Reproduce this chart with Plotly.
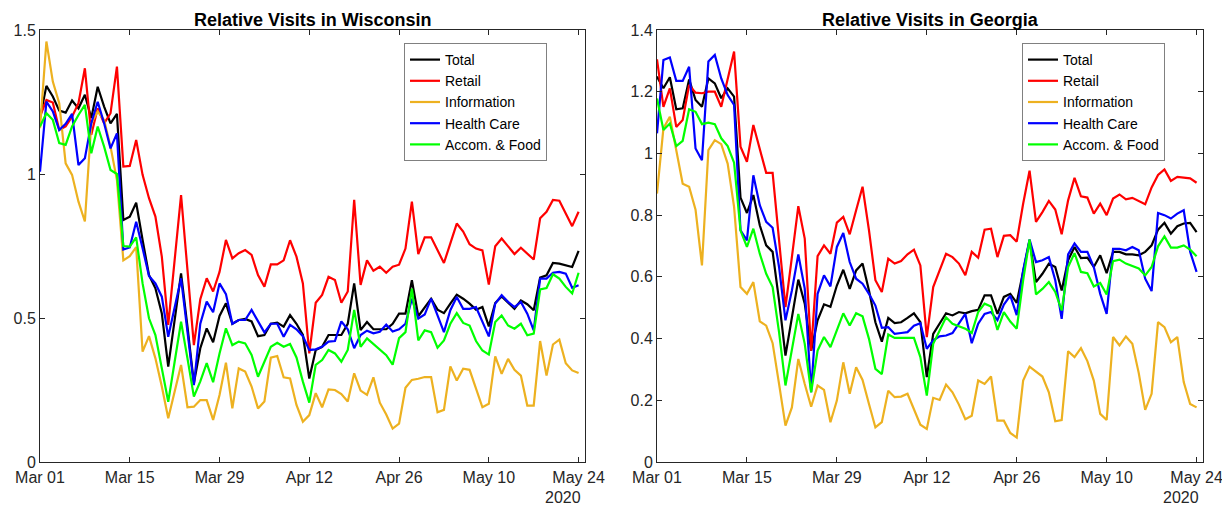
import pandas as pd
import plotly.graph_objects as go

dates = pd.date_range("2020-03-01", "2020-05-24", freq="D")

series_names = ["Total", "Retail", "Information", "Health Care", "Accom. & Food"]
series_colors = ["#000000", "#FF0000", "#EDB120", "#0000FF", "#00FF00"]

wi_total = [1.194, 1.306, 1.269, 1.22, 1.213, 1.255, 1.228, 1.275, 1.194, 1.303, 1.234, 1.176, 1.209, 0.84, 0.852, 0.90, 0.771, 0.649, 0.603, 0.516, 0.331, 0.487, 0.655, 0.47, 0.273, 0.395, 0.464, 0.416, 0.507, 0.551, 0.48, 0.493, 0.497, 0.488, 0.437, 0.441, 0.48, 0.484, 0.47, 0.51, 0.48, 0.441, 0.29, 0.389, 0.40, 0.441, 0.441, 0.441, 0.48, 0.62, 0.458, 0.486, 0.461, 0.461, 0.461, 0.48, 0.515, 0.515, 0.631, 0.506, 0.538, 0.567, 0.529, 0.517, 0.55, 0.581, 0.567, 0.55, 0.529, 0.538, 0.471, 0.552, 0.575, 0.552, 0.532, 0.561, 0.548, 0.527, 0.64, 0.648, 0.691, 0.689, 0.683, 0.677, 0.733]
wi_retail = [1.199, 1.257, 1.248, 1.153, 1.165, 1.199, 1.246, 1.367, 1.136, 1.228, 1.176, 1.211, 1.373, 1.026, 1.028, 1.118, 0.997, 0.916, 0.852, 0.713, 0.476, 0.70, 0.927, 0.667, 0.406, 0.565, 0.638, 0.592, 0.66, 0.771, 0.707, 0.725, 0.736, 0.719, 0.649, 0.609, 0.686, 0.686, 0.70, 0.77, 0.713, 0.62, 0.377, 0.553, 0.58, 0.643, 0.632, 0.553, 0.592, 0.91, 0.615, 0.70, 0.664, 0.678, 0.657, 0.678, 0.685, 0.741, 0.904, 0.722, 0.78, 0.78, 0.735, 0.691, 0.759, 0.828, 0.80, 0.756, 0.741, 0.735, 0.616, 0.749, 0.776, 0.749, 0.722, 0.744, 0.724, 0.703, 0.846, 0.869, 0.91, 0.907, 0.863, 0.819, 0.869]
wi_info = [1.159, 1.46, 1.321, 1.246, 1.037, 0.997, 0.904, 0.835, 1.176, 1.217, 1.188, 1.095, 0.979, 0.70, 0.715, 0.746, 0.383, 0.437, 0.36, 0.262, 0.152, 0.244, 0.337, 0.19, 0.192, 0.215, 0.215, 0.146, 0.233, 0.345, 0.186, 0.325, 0.314, 0.262, 0.186, 0.21, 0.362, 0.368, 0.294, 0.29, 0.198, 0.14, 0.163, 0.239, 0.19, 0.252, 0.25, 0.236, 0.21, 0.308, 0.248, 0.233, 0.294, 0.206, 0.165, 0.116, 0.133, 0.258, 0.285, 0.289, 0.295, 0.295, 0.173, 0.181, 0.332, 0.283, 0.324, 0.32, 0.258, 0.19, 0.202, 0.367, 0.306, 0.358, 0.32, 0.30, 0.196, 0.196, 0.42, 0.30, 0.408, 0.425, 0.343, 0.318, 0.309]
wi_health = [1.008, 1.251, 1.217, 1.153, 1.174, 1.209, 1.031, 1.055, 1.176, 1.251, 1.176, 1.089, 1.141, 0.738, 0.745, 0.834, 0.742, 0.646, 0.62, 0.574, 0.435, 0.54, 0.638, 0.453, 0.267, 0.48, 0.557, 0.52, 0.62, 0.583, 0.48, 0.493, 0.493, 0.528, 0.488, 0.45, 0.48, 0.48, 0.435, 0.476, 0.461, 0.437, 0.389, 0.391, 0.40, 0.418, 0.42, 0.488, 0.461, 0.395, 0.441, 0.456, 0.447, 0.452, 0.477, 0.453, 0.461, 0.48, 0.567, 0.498, 0.512, 0.567, 0.509, 0.451, 0.527, 0.573, 0.532, 0.532, 0.538, 0.486, 0.436, 0.55, 0.579, 0.556, 0.538, 0.556, 0.515, 0.457, 0.637, 0.637, 0.657, 0.66, 0.654, 0.605, 0.614]
wi_accom = [1.165, 1.211, 1.188, 1.107, 1.101, 1.165, 1.205, 1.24, 1.072, 1.165, 1.095, 1.014, 1.0, 0.75, 0.748, 0.78, 0.62, 0.499, 0.441, 0.325, 0.209, 0.348, 0.487, 0.36, 0.227, 0.28, 0.343, 0.277, 0.377, 0.464, 0.406, 0.418, 0.412, 0.372, 0.296, 0.348, 0.40, 0.414, 0.40, 0.41, 0.363, 0.279, 0.206, 0.337, 0.354, 0.389, 0.377, 0.348, 0.389, 0.528, 0.40, 0.429, 0.41, 0.388, 0.371, 0.338, 0.43, 0.451, 0.602, 0.422, 0.457, 0.451, 0.397, 0.422, 0.48, 0.517, 0.483, 0.474, 0.42, 0.387, 0.373, 0.486, 0.509, 0.474, 0.463, 0.48, 0.44, 0.446, 0.599, 0.604, 0.652, 0.637, 0.608, 0.585, 0.657]

ga_total = [1.249, 1.211, 1.247, 1.143, 1.146, 1.24, 1.173, 1.151, 1.243, 1.227, 1.179, 1.211, 1.184, 0.857, 0.807, 0.865, 0.767, 0.702, 0.681, 0.524, 0.345, 0.47, 0.591, 0.513, 0.361, 0.459, 0.511, 0.503, 0.572, 0.623, 0.561, 0.621, 0.643, 0.556, 0.453, 0.39, 0.467, 0.45, 0.453, 0.467, 0.482, 0.453, 0.275, 0.415, 0.448, 0.482, 0.475, 0.486, 0.482, 0.489, 0.493, 0.54, 0.54, 0.48, 0.535, 0.545, 0.516, 0.621, 0.718, 0.583, 0.61, 0.643, 0.632, 0.556, 0.654, 0.697, 0.661, 0.662, 0.632, 0.67, 0.612, 0.681, 0.681, 0.673, 0.673, 0.67, 0.681, 0.702, 0.753, 0.775, 0.74, 0.764, 0.773, 0.775, 0.745]
ga_retail = [1.305, 1.151, 1.211, 1.086, 1.108, 1.222, 1.197, 1.195, 1.2, 1.2, 1.151, 1.243, 1.33, 1.022, 0.973, 1.092, 1.016, 0.937, 0.937, 0.718, 0.502, 0.664, 0.829, 0.724, 0.361, 0.667, 0.702, 0.675, 0.776, 0.794, 0.738, 0.816, 0.892, 0.751, 0.589, 0.551, 0.659, 0.643, 0.651, 0.673, 0.688, 0.637, 0.405, 0.567, 0.621, 0.675, 0.664, 0.643, 0.605, 0.681, 0.662, 0.753, 0.756, 0.664, 0.733, 0.735, 0.714, 0.837, 0.944, 0.778, 0.81, 0.846, 0.818, 0.738, 0.848, 0.921, 0.861, 0.857, 0.805, 0.837, 0.80, 0.854, 0.867, 0.851, 0.856, 0.846, 0.835, 0.89, 0.93, 0.948, 0.911, 0.924, 0.922, 0.919, 0.905]
ga_info = [0.87, 1.081, 1.119, 1.005, 0.902, 0.892, 0.818, 0.637, 1.011, 1.043, 1.03, 0.967, 0.827, 0.567, 0.545, 0.583, 0.456, 0.442, 0.385, 0.253, 0.118, 0.177, 0.334, 0.253, 0.179, 0.248, 0.234, 0.129, 0.199, 0.323, 0.221, 0.307, 0.266, 0.188, 0.112, 0.129, 0.231, 0.21, 0.212, 0.221, 0.172, 0.121, 0.107, 0.208, 0.201, 0.251, 0.226, 0.186, 0.139, 0.15, 0.264, 0.253, 0.277, 0.134, 0.134, 0.094, 0.079, 0.264, 0.309, 0.294, 0.277, 0.226, 0.132, 0.136, 0.359, 0.34, 0.369, 0.327, 0.264, 0.156, 0.136, 0.405, 0.378, 0.407, 0.383, 0.288, 0.169, 0.221, 0.453, 0.437, 0.388, 0.405, 0.259, 0.188, 0.177]
ga_health = [1.065, 1.303, 1.311, 1.235, 1.235, 1.281, 1.016, 0.978, 1.298, 1.319, 1.243, 1.189, 1.157, 0.751, 0.718, 0.929, 0.832, 0.778, 0.759, 0.632, 0.459, 0.556, 0.673, 0.562, 0.226, 0.545, 0.605, 0.569, 0.697, 0.742, 0.648, 0.594, 0.578, 0.545, 0.507, 0.435, 0.437, 0.415, 0.418, 0.421, 0.442, 0.45, 0.367, 0.394, 0.407, 0.41, 0.418, 0.448, 0.48, 0.385, 0.448, 0.48, 0.486, 0.46, 0.51, 0.539, 0.476, 0.621, 0.721, 0.648, 0.654, 0.664, 0.589, 0.464, 0.673, 0.708, 0.681, 0.681, 0.632, 0.545, 0.48, 0.691, 0.691, 0.686, 0.697, 0.686, 0.594, 0.554, 0.807, 0.80, 0.789, 0.805, 0.816, 0.681, 0.616]
ga_accom = [1.178, 1.076, 1.097, 1.024, 1.041, 1.143, 1.135, 1.095, 1.1, 1.095, 1.049, 1.024, 0.97, 0.75, 0.697, 0.756, 0.675, 0.61, 0.567, 0.421, 0.248, 0.361, 0.48, 0.383, 0.226, 0.361, 0.405, 0.372, 0.426, 0.482, 0.442, 0.482, 0.472, 0.399, 0.302, 0.285, 0.413, 0.402, 0.402, 0.402, 0.402, 0.34, 0.215, 0.383, 0.426, 0.469, 0.448, 0.439, 0.432, 0.418, 0.486, 0.513, 0.504, 0.428, 0.486, 0.455, 0.432, 0.589, 0.721, 0.543, 0.561, 0.583, 0.551, 0.491, 0.632, 0.677, 0.616, 0.612, 0.569, 0.58, 0.543, 0.651, 0.656, 0.643, 0.634, 0.627, 0.605, 0.632, 0.699, 0.731, 0.695, 0.695, 0.702, 0.688, 0.667]

x_tick_vals = ["2020-03-01", "2020-03-15", "2020-03-29", "2020-04-12", "2020-04-26", "2020-05-10", "2020-05-24"]
x_tick_text = ["Mar 01", "Mar 15", "Mar 29", "Apr 12", "Apr 26", "May 10", "May 24"]
wi_y_ticks = [0, 0.5, 1, 1.5]
wi_y_text = ["0", "0.5", "1", "1.5"]
ga_y_ticks = [0, 0.2, 0.4, 0.6, 0.8, 1.0, 1.2, 1.4]
ga_y_text = ["0", "0.2", "0.4", "0.6", "0.8", "1", "1.2", "1.4"]

# The page body has an 8px default margin; lay out in screen pixels and compensate.
OFF = 8
W, H = 1230 - OFF, 510 - OFF


def px(xs):
    return (xs - OFF) / W


def py(ys):
    return 1 - (ys - OFF) / H


FONT = "Liberation Sans, Arial, sans-serif"
AX = "#262626"

fig = go.Figure()

wi = [wi_total, wi_retail, wi_info, wi_health, wi_accom]
ga = [ga_total, ga_retail, ga_info, ga_health, ga_accom]
for name, col, vals in zip(series_names, series_colors, wi):
    fig.add_trace(go.Scatter(x=dates, y=vals, mode="lines", name=name,
                             line=dict(color=col, width=2.2), xaxis="x", yaxis="y",
                             legend="legend"))
for name, col, vals in zip(series_names, series_colors, ga):
    fig.add_trace(go.Scatter(x=dates, y=vals, mode="lines", name=name,
                             line=dict(color=col, width=2.2), xaxis="x2", yaxis="y2",
                             legend="legend2"))

ydom = [py(462), py(30)]
xcommon = dict(type="date", range=["2020-03-01", "2020-05-25"], tickvals=x_tick_vals,
               ticktext=x_tick_text, ticks="inside", ticklen=5, tickcolor=AX,
               showline=True, linecolor=AX, linewidth=1, mirror="ticks",
               showgrid=False, zeroline=False, automargin=False,
               ticklabelstandoff=1, ticklabeloverflow="allow",
               tickfont=dict(family=FONT, size=16, color=AX))
ycommon = dict(ticks="inside", ticklen=5, tickcolor=AX, showline=True, linecolor=AX,
               linewidth=1, mirror="ticks", showgrid=False, zeroline=False,
               automargin=False, ticklabeloverflow="allow",
               tickfont=dict(family=FONT, size=16, color=AX))

legend_common = dict(yanchor="top", xanchor="left", bgcolor="white",
                     bordercolor="#808080", borderwidth=1,
                     font=dict(family=FONT, size=14, color="#000000"),
                     tracegroupgap=0, itemwidth=30)

fig.update_layout(
    width=W, height=H,
    margin=dict(l=0, r=0, t=0, b=0),
    paper_bgcolor="white", plot_bgcolor="white",
    xaxis=dict(domain=[px(40), px(585)], anchor="y", **xcommon),
    yaxis=dict(domain=ydom, anchor="x", range=[0, 1.5], tickvals=wi_y_ticks,
               ticktext=wi_y_text, **ycommon),
    xaxis2=dict(domain=[px(657), px(1203)], anchor="y2", **xcommon),
    yaxis2=dict(domain=ydom, anchor="x2", range=[0, 1.4], tickvals=ga_y_ticks,
                ticktext=ga_y_text, **ycommon),
    legend=dict(x=px(404), y=py(43), **legend_common),
    legend2=dict(x=px(1022), y=py(43), **legend_common),
    annotations=[
        dict(text="<b>Relative Visits in Wisconsin</b>", xref="paper", yref="paper",
             x=px((40 + 585) / 2), y=py(20), xanchor="center", yanchor="middle",
             showarrow=False, font=dict(family=FONT, size=18, color="#000000")),
        dict(text="<b>Relative Visits in Georgia</b>", xref="paper", yref="paper",
             x=px((657 + 1203) / 2), y=py(20), xanchor="center", yanchor="middle",
             showarrow=False, font=dict(family=FONT, size=18, color="#000000")),
        dict(text="2020", xref="x", yref="paper", x="2020-05-24", y=py(497),
             xanchor="right", yanchor="middle", xshift=4, showarrow=False,
             font=dict(family=FONT, size=16, color=AX)),
        dict(text="2020", xref="x2", yref="paper", x="2020-05-24", y=py(497),
             xanchor="right", yanchor="middle", xshift=4, showarrow=False,
             font=dict(family=FONT, size=16, color=AX)),
    ],
)

fig.write_html("out.html")
